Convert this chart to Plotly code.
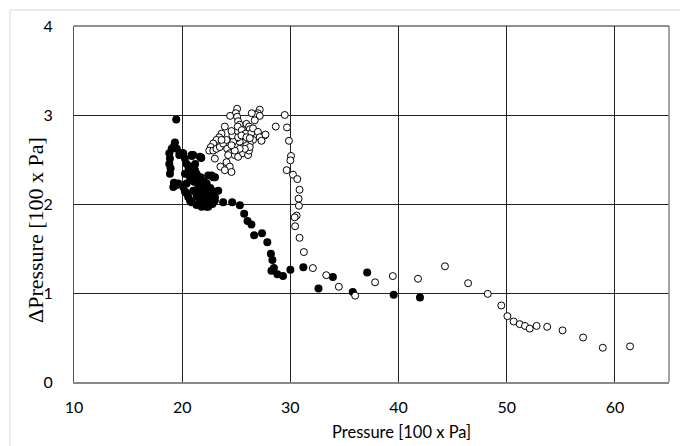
import plotly.graph_objects as go

# Filled series (black dots)
filled_x = [19.45, 19.33, 19.24, 19.03, 18.81, 18.87, 18.81, 18.93, 18.87, 19.24, 19.42, 19.64,
            19.18, 19.33, 19.73, 20.04, 20.25, 20.9, 21.76, 20.41, 20.71, 21.02, 21.33, 21.48,
            21.64, 21.79, 22.1, 22.4, 22.71, 23.02, 22.56, 22.25, 21.79, 21.33, 20.87, 20.56,
            20.25, 20.1, 20.41, 20.87, 21.02, 21.33, 21.64, 21.94, 22.4, 21.74, 20.88, 22.72,
            23.03, 22.26, 22.87, 23.03, 19.95, 19.5, 21.18, 20.72, 20.26, 21.64, 21.02, 20.1,
            23.33, 22.87, 22.41, 20.72, 20.41, 21.5, 22.0, 22.6, 21.2, 20.6,
            21.9, 22.2, 21.4, 21.7, 22.5, 21.1, 22.8, 21.6, 22.3, 20.9,
            23.79, 24.62, 25.33, 25.73, 26.04, 26.4, 26.65, 27.38, 27.87, 28.2, 28.34, 28.25,
            28.48, 28.8, 29.32, 30.0, 31.2, 32.6, 33.93, 35.77, 37.1, 39.55, 41.98]
filled_y = [2.95, 2.69, 2.65, 2.62, 2.57, 2.51, 2.45, 2.40, 2.34, 2.24, 2.21, 2.23,
            2.19, 2.21, 2.55, 2.57, 2.51, 2.54, 2.52, 2.45, 2.42, 2.38, 2.34, 2.29,
            2.23, 2.17, 2.15, 2.12, 2.08, 2.04, 2.02, 1.97, 1.97, 1.99, 2.02, 2.08,
            2.14, 2.19, 2.23, 2.27, 2.15, 2.10, 2.06, 2.02, 2.32, 2.52, 2.55, 2.32,
            2.30, 2.23, 2.14, 2.08, 2.57, 2.62, 2.38, 2.30, 2.34, 2.53, 2.55, 2.57,
            2.15, 2.30, 1.97, 2.04, 2.12, 2.20, 2.25, 2.18, 2.45, 2.40,
            2.10, 2.22, 2.08, 2.30, 2.00, 2.25, 2.00, 2.12, 2.05, 2.35,
            2.02, 2.02, 1.985, 1.89, 1.81, 1.77, 1.65, 1.67, 1.57, 1.44, 1.37, 1.25,
            1.28, 1.21, 1.19, 1.26, 1.29, 1.05, 1.18, 1.01, 1.23, 0.98, 0.95]

# Open series (white circles)
open_x = [25.08, 24.96, 25.08, 24.43, 25.17, 25.32, 25.14, 25.51, 25.94, 26.18, 26.25, 25.85,
          26.4, 26.55, 27.17, 27.0, 26.86, 27.17, 26.43, 26.71, 27.63, 27.0, 27.17, 26.55,
          26.25, 25.94, 25.63, 25.32, 25.02, 24.71, 24.65, 24.56, 23.94, 23.64, 23.42, 23.17,
          22.87, 22.65, 22.5, 22.87, 23.17, 23.48, 23.79, 24.16, 24.4, 24.86, 25.17, 25.63,
          26.09, 26.18, 26.25, 25.79, 25.32, 24.86, 24.56, 24.1, 23.64, 23.02, 23.54, 24.1,
          24.4, 24.56, 23.94, 24.25, 25.17, 25.48, 25.94, 26.25, 28.65, 27.7, 27.33,
          29.48, 29.69, 29.87, 30.06, 30.0, 29.66, 30.24, 30.64, 30.85, 30.76, 30.79, 30.58,
          30.4, 30.44, 30.85, 31.25, 32.08, 33.32, 34.48, 35.99, 37.83, 39.47, 41.8, 44.29,
          46.43, 48.25, 49.5, 50.06, 50.64, 51.2, 51.69, 52.12, 52.76, 53.74, 55.16, 57.06,
          58.88, 61.4]
open_y = [3.07, 3.02, 2.98, 2.99, 2.93, 2.89, 2.87, 2.83, 2.90, 2.87, 2.84, 2.79,
          2.80, 2.85, 3.06, 3.02, 3.00, 2.99, 3.02, 2.94, 2.77, 2.81, 2.75, 2.72,
          2.68, 2.66, 2.72, 2.70, 2.74, 2.70, 2.77, 2.82, 2.87, 2.79, 2.75, 2.72,
          2.68, 2.64, 2.60, 2.60, 2.62, 2.64, 2.68, 2.62, 2.57, 2.55, 2.53, 2.57,
          2.55, 2.60, 2.64, 2.62, 2.62, 2.60, 2.66, 2.72, 2.72, 2.51, 2.42, 2.47,
          2.42, 2.36, 2.38, 2.55, 2.75, 2.77, 2.75, 2.74, 2.87, 2.78, 2.71,
          3.00, 2.86, 2.71, 2.54, 2.49, 2.38, 2.33, 2.28, 2.16, 2.06, 1.98, 1.87,
          1.85, 1.75, 1.62, 1.46, 1.28, 1.20, 1.07, 0.97, 1.12, 1.19, 1.16, 1.30,
          1.11, 0.99, 0.86, 0.74, 0.68, 0.65, 0.63, 0.60, 0.63, 0.62, 0.58, 0.50,
          0.385, 0.40]

x_ticks = [10, 20, 30, 40, 50, 60]
y_ticks = [0, 1, 2, 3, 4]
x_title = "Pressure [100 x Pa]"
y_title = "ΔPressure [100 x Pa]"

fig = go.Figure()
fig.add_trace(go.Scatter(x=filled_x, y=filled_y, mode="markers",
                         marker=dict(size=8, color="black", line=dict(width=0)),
                         showlegend=False))
fig.add_trace(go.Scatter(x=open_x, y=open_y, mode="markers",
                         marker=dict(size=7, color="white", line=dict(width=1, color="black")),
                         showlegend=False))

tickfont = dict(family="Lato, Open Sans, sans-serif", size=16, color="#000000")
L, R, T, B = 74, 11, 26, 64
W, H = 680, 446
pw, ph = W - L - R, H - T - B

fig.update_layout(
    width=W, height=H,
    margin=dict(l=L, r=R, t=T, b=B, pad=0),
    paper_bgcolor="white", plot_bgcolor="white",
    xaxis=dict(range=[10, 65], tickvals=x_ticks, ticks="", ticklabelstandoff=10,
               showgrid=True, gridcolor="#222222", gridwidth=1, zeroline=False,
               showline=True, linecolor="#888888", linewidth=1.5, mirror=False,
               tickfont=tickfont, fixedrange=True),
    yaxis=dict(range=[0, 4], tickvals=y_ticks, ticks="", ticklabelstandoff=17,
               showgrid=True, gridcolor="#222222", gridwidth=1, zeroline=False,
               showline=True, linecolor="#555555", linewidth=1, mirror=False,
               tickfont=tickfont, fixedrange=True),
    annotations=[
        dict(text=x_title, xref="paper", yref="paper", x=(401 - L) / pw,
             y=-(432 - (T + ph)) / ph, showarrow=False, xanchor="center", yanchor="middle",
             font=dict(family="Lato, Open Sans, sans-serif", size=16.5, color="#000000")),
        dict(text=y_title, xref="paper", yref="paper", x=(35 - L) / pw, y=(T + ph - 230) / ph,
             showarrow=False, textangle=-90, xanchor="center", yanchor="middle",
             font=dict(family="Liberation Serif, Times New Roman, serif", size=22, color="#000000")),
    ],
    shapes=[
        dict(type="line", xref="paper", yref="paper", x0=1, x1=1, y0=0, y1=1,
             line=dict(color="#888888", width=1.5)),
        dict(type="line", xref="paper", yref="paper", x0=1, x1=0, y0=1, y1=1,
             line=dict(color="#222222", width=1)),
        dict(type="line", xref="paper", yref="paper", x0=(10 - L) / pw, x1=(10 - L) / pw,
             y0=(T + ph - 10) / ph, y1=-(H - (T + ph)) / ph,
             line=dict(color="#d9d9d9", width=1)),
        dict(type="line", xref="paper", yref="paper", x0=(10 - L) / pw, x1=(W - L) / pw,
             y0=(T + ph - 10) / ph, y1=(T + ph - 10) / ph,
             line=dict(color="#d9d9d9", width=1)),
    ],
)

fig.write_html("out.html", config={"displayModeBar": False},
               post_script="document.body.style.margin='0';document.body.style.padding='0';")
